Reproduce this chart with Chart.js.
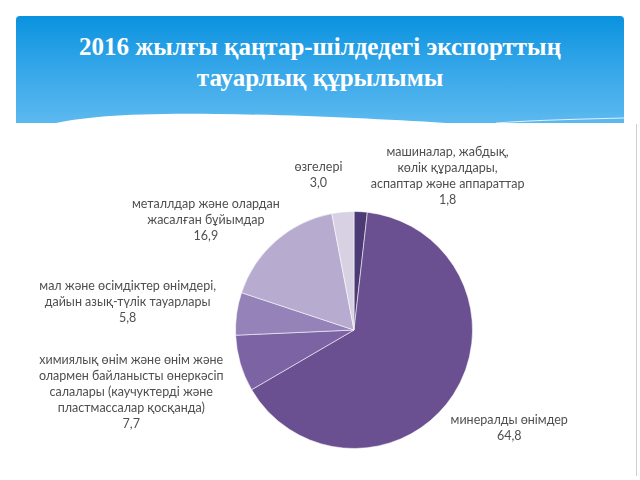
<!DOCTYPE html>
<html lang="kk">
<head>
  <meta charset="UTF-8">
  <script src="https://cdn.jsdelivr.net/npm/chart.js"></script>
  <style>
    html, body { margin: 0; padding: 0; background: #fff; }
    body { width: 640px; height: 480px; position: relative; overflow: hidden; }
    .header {
      position: absolute; left: 16px; top: 16px; width: 608px; height: 107px;
      border-radius: 4px 4px 0 0;
      background: linear-gradient(to bottom, #0a92df 0%, #3aa9ea 55%, #5cb9ef 100%);
    }
    .header svg { position: absolute; left: 0; bottom: 0; }
    .title {
      position: absolute; left: 16px; top: 31px; width: 608px;
      text-align: center; color: #fff;
      font: bold 25px/31px "Liberation Serif", "Times New Roman", serif;
    }
    .edge { position: absolute; left: 636px; top: 124px; width: 1px; height: 352px; background: #cfcfcf; }
    #pie { position: absolute; left: 0; top: 0; }
  </style>
</head>
<body>
  <div class="header">
    <svg width="608" height="14" viewBox="0 0 608 14">
      <path d="M40 14 C 70 8, 110 4, 200 5 C 290 6, 360 10, 430 14 Z" fill="#fff"/>
      <path d="M480 14 C 520 11, 570 10, 608 9" stroke="rgba(255,255,255,0.8)" stroke-width="1" fill="none"/>
    </svg>
  </div>
  <div class="title">2016 жылғы қаңтар-шілдедегі экспорттың<br>тауарлық құрылымы</div>
  <div class="edge"></div>
  <canvas id="pie" width="640" height="480"></canvas>

  <script>
    // categories (label lines), clockwise from 12 o'clock
    const categories = [
      ['машиналар, жабдық,', 'көлік құралдары,', 'аспаптар және аппараттар'],
      ['минералды өнімдер'],
      ['химиялық өнім және өнім және', 'олармен байланысты өнеркәсіп', 'салалары (каучуктерді және', 'пластмассалар қосқанда)'],
      ['мал және өсімдіктер өнімдері,', 'дайын азық-түлік тауарлары'],
      ['металлдар және олардан', 'жасалған бұйымдар'],
      ['өзгелері']
    ];
    const values = [1.8, 64.8, 7.7, 5.8, 16.9, 3.0];

    const sliceColors = ['#4c3a75', '#6a5090', '#7c63a4', '#9482b8', '#b7abcf', '#d8d1e4'];
    // label block centre, relative to pie centre, in units of the radius
    const labelPlace = [[0.79, -1.30], [1.31, 0.83], [-1.88, 0.52], [-1.91, -0.24], [-1.25, -0.93], [-0.30, -1.31]];

    const fmt = v => v.toFixed(1).replace('.', ',');

    const sliceLabels = {
      id: 'sliceLabels',
      afterDatasetsDraw(chart) {
        const ctx = chart.ctx;
        const lineH = 16;
        ctx.save();
        ctx.font = '12.5px Lato';
        ctx.fillStyle = '#4f4f4f';
        ctx.textAlign = 'center';
        ctx.textBaseline = 'middle';
        chart.getDatasetMeta(0).data.forEach((arc, i) => {
          const r = arc.outerRadius;
          const lines = categories[i].concat(fmt(values[i]));
          const cx = arc.x + labelPlace[i][0] * r;
          const cy = arc.y + labelPlace[i][1] * r;
          const top = cy - (lines.length - 1) * lineH / 2;
          lines.forEach((t, k) => ctx.fillText(t, cx, top + k * lineH));
        });
        ctx.restore();
      }
    };

    new Chart(document.getElementById('pie'), {
      type: 'pie',
      data: {
        labels: categories.map(c => c.join(' ')),
        datasets: [{
          data: values,
          backgroundColor: sliceColors,
          borderColor: 'rgba(255,255,255,0.55)',
          borderWidth: 1
        }]
      },
      options: {
        responsive: false,
        animation: false,
        layout: { padding: { left: 235, right: 167, top: 211, bottom: 31 } },
        plugins: { legend: { display: false }, tooltip: { enabled: false } }
      },
      plugins: [sliceLabels]
    });
  </script>
</body>
</html>
